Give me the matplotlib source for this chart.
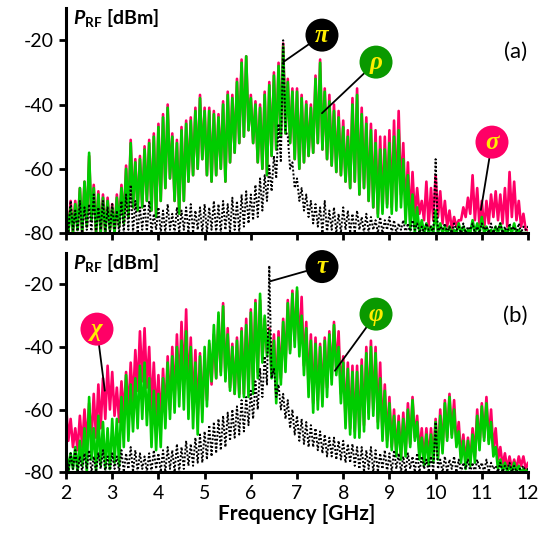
import numpy as np
import matplotlib
matplotlib.use("Agg")
import matplotlib.pyplot as plt

# Frequency grid [GHz]; each series is given as local maxima (hi) at FREQ
# and local minima (lo) at FREQ + 0.05 GHz, which is how the dense spectra look.
FREQ = [round(2.0 + 0.1 * i, 1) for i in range(101)]
FREQ_LO = [round(f + 0.05, 2) for f in FREQ]

# ---------- panel (a) ----------
A_SIGMA_HI = [-70, -70, -70, -66, -64, -56, -65, -67, -68, -69,
              -71, -68, -65, -59, -51, -57, -56, -53, -51, -49,
              -46, -43, -40, -49, -51, -47, -45, -44, -41, -37,
              -41, -41, -42, -43, -39, -36, -37, -32, -26, -25,
              -37, -39, -40, -36, -33, -30, -27, -21, -32, -35,
              -35, -37, -39, -40, -31, -26, -35, -37, -40, -42,
              -45, -48, -38, -35, -41, -44, -46, -48, -50, -50,
              -48, -45, -42, -52, -58, -61, -66, -70, -64, -66,
              -62, -67, -70, -73, -75, -76, -72, -69, -62, -66,
              -70, -70, -68, -67, -68, -66, -61, -64, -70, -74, -79]
A_SIGMA_LO = [-80, -80, -79, -80, -78, -76, -80, -80, -80, -79,
              -80, -78, -77, -75, -72, -73, -72, -70, -73, -75,
              -70, -66, -63, -70, -74, -70, -64, -62, -60, -57,
              -62, -64, -62, -60, -64, -58, -55, -52, -50, -48,
              -52, -58, -60, -62, -56, -54, -50, -49, -52, -57,
              -60, -58, -56, -55, -52, -54, -57, -59, -61, -62,
              -64, -66, -64, -68, -66, -70, -72, -74, -73, -71,
              -72, -70, -68, -74, -76, -75, -74, -76, -78, -76,
              -75, -77, -78, -79, -78, -76, -75, -74, -76, -78,
              -79, -77, -75, -76, -77, -78, -75, -76, -78, -79, -80]
A_RHO_HI = [-70, -72, -71, -66, -64, -55, -66, -68, -69, -70,
            -72, -69, -66, -60, -52, -58, -57, -54, -52, -50,
            -47, -44, -41, -50, -52, -48, -46, -45, -42, -38,
            -42, -42, -43, -44, -40, -37, -38, -33, -27, -25,
            -38, -40, -41, -37, -34, -31, -28, -22, -33, -36,
            -36, -38, -40, -41, -32, -27, -36, -39, -42, -44,
            -47, -50, -40, -37, -43, -46, -48, -52, -54, -54,
            -52, -50, -48, -57, -62, -68, -72, -76, -77, -78,
            -73, -77, -78, -78, -79, -77, -78, -79, -76, -77,
            -75, -78, -79, -78, -77, -79, -78, -77, -79, -80, -80]
A_RHO_LO = [-80, -80, -79, -80, -78, -76, -80, -80, -80, -79,
            -80, -78, -77, -75, -72, -73, -72, -70, -73, -75,
            -70, -66, -63, -70, -74, -70, -64, -62, -60, -57,
            -62, -64, -62, -60, -64, -58, -55, -52, -50, -48,
            -52, -58, -60, -62, -56, -54, -50, -49, -52, -57,
            -60, -58, -56, -55, -52, -54, -57, -59, -61, -62,
            -64, -66, -64, -68, -66, -70, -72, -75, -74, -72,
            -74, -73, -72, -77, -79, -80, -80, -80, -80, -80,
            -80, -80, -80, -80, -80, -80, -80, -80, -80, -80,
            -80, -80, -80, -80, -80, -80, -80, -80, -80, -80, -80]
A_PI_HI = [-72, -70, -73, -70, -72, -71, -68, -72, -70, -72,
           -71, -73, -70, -68, -65, -70, -72, -71, -70, -74,
           -72, -73, -71, -74, -72, -73, -72, -71, -73, -72,
           -71, -72, -70, -71, -70, -71, -69, -70, -68, -67,
           -68, -65, -63, -62, -59, -56, -46, -20, -50, -58,
           -63, -66, -68, -70, -71, -72, -70, -73, -72, -74,
           -72, -73, -74, -73, -75, -74, -75, -76, -75, -76,
           -75, -76, -77, -76, -77, -76, -77, -78, -77, -78,
           -57, -78, -77, -78, -77, -78, -77, -78, -77, -78,
           -77, -78, -77, -78, -77, -78, -77, -78, -77, -78, -78]
A_PI_LO = [-80, -79, -80, -80, -79, -80, -80, -79, -80, -80,
           -79, -80, -80, -79, -80, -80, -79, -80, -80, -79,
           -80, -80, -79, -80, -80, -79, -80, -80, -79, -80,
           -80, -79, -80, -80, -79, -80, -79, -80, -78, -77,
           -76, -75, -73, -70, -67, -63, -58, -48, -60, -66,
           -70, -73, -75, -77, -78, -80, -80, -79, -80, -80,
           -79, -80, -80, -79, -80, -80, -79, -80, -80, -79,
           -80, -80, -79, -80, -80, -79, -80, -80, -79, -80,
           -80, -79, -80, -80, -79, -80, -80, -79, -80, -80,
           -79, -80, -80, -79, -80, -80, -79, -80, -80, -79, -80]

# ---------- panel (b) ----------
B_CHI_HI = [-58, -63, -66, -62, -60, -58, -55, -52, -50, -46,
            -48, -53, -51, -48, -45, -41, -35, -34, -40, -45,
            -49, -47, -43, -40, -36, -32, -28, -37, -41, -42,
            -43, -39, -36, -30, -26, -34, -39, -37, -34, -31,
            -28, -25, -25, -31, -34, -36, -35, -31, -25, -22,
            -22, -24, -32, -36, -37, -39, -37, -35, -32, -35,
            -43, -45, -46, -46, -44, -40, -38, -40, -45, -52,
            -56, -60, -62, -61, -58, -56, -62, -66, -66, -66,
            -63, -60, -57, -55, -57, -64, -68, -69, -66, -60,
            -58, -56, -60, -66, -72, -74, -75, -76, -75, -75, -77]
B_CHI_LO = [-70, -72, -73, -72, -71, -70, -69, -66, -63, -60,
            -62, -64, -62, -61, -58, -54, -51, -53, -60, -62,
            -64, -62, -60, -57, -54, -52, -55, -60, -62, -60,
            -57, -52, -50, -48, -50, -53, -55, -55, -55, -53,
            -52, -48, -44, -42, -48, -55, -50, -46, -41, -38,
            -40, -46, -53, -58, -57, -56, -53, -50, -47, -55,
            -63, -66, -67, -67, -65, -61, -60, -64, -68, -70,
            -72, -74, -75, -74, -71, -69, -74, -77, -76, -76,
            -75, -73, -69, -68, -71, -75, -77, -77, -75, -72,
            -69, -70, -73, -76, -78, -79, -79, -79, -78, -79, -80]
B_PHI_HI = [-72, -74, -72, -70, -66, -56, -66, -62, -64, -66,
            -63, -63, -56, -49, -52, -50, -46, -45, -50, -54,
            -55, -50, -45, -43, -40, -38, -35, -40, -45, -43,
            -40, -38, -33, -29, -27, -36, -40, -38, -35, -33,
            -29, -26, -23, -30, -35, -38, -37, -32, -26, -23,
            -21, -30, -34, -38, -39, -40, -38, -36, -33, -40,
            -45, -47, -48, -48, -46, -42, -40, -42, -50, -54,
            -58, -62, -64, -63, -60, -57, -64, -69, -68, -68,
            -64, -62, -58, -56, -60, -67, -70, -70, -68, -62,
            -59, -58, -64, -72, -76, -77, -78, -77, -78, -79, -79]
B_PHI_LO = [-80, -79, -80, -78, -80, -76, -80, -78, -79, -79,
            -77, -78, -72, -70, -67, -66, -63, -65, -72, -73,
            -72, -66, -63, -61, -59, -60, -63, -66, -68, -64,
            -59, -51, -50, -49, -51, -54, -55, -56, -56, -56,
            -55, -50, -45, -43, -50, -58, -52, -48, -42, -40,
            -43, -49, -56, -61, -60, -59, -56, -52, -49, -58,
            -66, -68, -69, -69, -67, -63, -62, -66, -70, -72,
            -73, -75, -76, -75, -72, -70, -76, -78, -78, -77,
            -76, -74, -70, -69, -72, -77, -79, -78, -77, -73,
            -70, -71, -75, -79, -80, -80, -80, -80, -80, -80, -80]
B_TAU_HI = [-72, -74, -73, -75, -74, -73, -75, -74, -73, -75,
            -74, -75, -73, -74, -72, -73, -74, -75, -74, -73,
            -74, -73, -72, -73, -71, -72, -70, -71, -69, -68,
            -67, -65, -64, -63, -62, -61, -60, -59, -57, -56,
            -54, -51, -47, -43, -14, -47, -52, -55, -57, -60,
            -62, -63, -64, -65, -66, -67, -68, -69, -69, -70,
            -70, -71, -71, -72, -72, -73, -72, -73, -74, -73,
            -74, -73, -74, -75, -74, -75, -74, -75, -76, -75,
            -64, -76, -75, -76, -75, -76, -77, -76, -77, -76,
            -77, -76, -77, -78, -77, -78, -77, -78, -79, -78, -79]
B_TAU_LO = [-80, -79, -80, -80, -79, -80, -80, -79, -80, -80,
            -79, -80, -80, -79, -80, -80, -79, -80, -80, -79,
            -80, -80, -79, -80, -80, -79, -78, -78, -77, -77,
            -76, -75, -74, -73, -72, -70, -69, -68, -67, -65,
            -63, -60, -56, -52, -50, -56, -60, -63, -66, -68,
            -70, -71, -72, -72, -73, -74, -75, -75, -76, -76,
            -77, -77, -78, -79, -80, -79, -80, -80, -79, -80,
            -80, -79, -80, -80, -79, -80, -80, -79, -80, -80,
            -79, -80, -80, -79, -80, -80, -79, -80, -80, -79,
            -80, -80, -79, -80, -80, -79, -80, -80, -79, -80, -80]

X_TICKS = [2, 3, 4, 5, 6, 7, 8, 9, 10, 11, 12]
Y_TICKS = [-80, -60, -40, -20]

PINK = "#FF0066"
GREEN = "#00CC00"
DKGREEN = "#0A9900"
FONT = "Lato"

plt.rcParams["mathtext.fontset"] = "custom"
plt.rcParams["mathtext.bf"] = "Lato:bold"
plt.rcParams["mathtext.bfit"] = "Lato:bold:italic"


def zigzag(hi, lo):
    x = np.empty(2 * len(FREQ))
    y = np.empty(2 * len(FREQ))
    x[0::2] = FREQ
    x[1::2] = FREQ_LO
    y[0::2] = hi
    y[1::2] = lo
    return x, y


fig = plt.figure(figsize=(5.47, 5.42), dpi=100)
ax_a = fig.add_axes([0.1207, 0.570, 0.8446, 0.415])
ax_b = fig.add_axes([0.1207, 0.129, 0.8446, 0.404])


def style(ax, show_xlabels):
    ax.set_xlim(2, 12)
    ax.set_ylim(-80, -10)
    for s in ("top", "right"):
        ax.spines[s].set_visible(False)
    for s in ("left", "bottom"):
        ax.spines[s].set_linewidth(2.2)
        ax.spines[s].set_zorder(10)
    ax.set_xticks(X_TICKS)
    ax.set_yticks(Y_TICKS)
    ax.set_yticklabels([str(v) for v in Y_TICKS], family=FONT, fontsize=14)
    if show_xlabels:
        ax.set_xticklabels([str(v) for v in X_TICKS], family=FONT, fontsize=14)
    else:
        ax.set_xticklabels([])
    ax.tick_params(direction="out", length=5, width=2, pad=4)
    ax.text(2.15, -13.3, r"$\boldsymbol{P}_{\mathbf{RF}}$ [dBm]", fontsize=14,
            fontweight="bold", family=FONT, va="center", ha="left")


def bubble(ax, letter, xy, xyt, color):
    ax.annotate(letter, xy=xy, xytext=xyt, textcoords="data",
                ha="center", va="center", fontsize=18, color="#FFEE00",
                family="Liberation Serif", fontweight="bold", style="italic",
                bbox=dict(boxstyle="circle,pad=0.2", fc=color, ec="none"),
                arrowprops=dict(arrowstyle="-", color="black", lw=1.3,
                                shrinkA=0, shrinkB=0),
                zorder=20, annotation_clip=False)


# panel (a)
x, y = zigzag(A_SIGMA_HI, A_SIGMA_LO)
ax_a.plot(x, y, color=PINK, lw=1.9, zorder=2)
x, y = zigzag(A_RHO_HI, A_RHO_LO)
ax_a.plot(x, y, color=GREEN, lw=1.9, zorder=3)
x, y = zigzag(A_PI_HI, A_PI_LO)
ax_a.plot(x, y, color="black", lw=1.4, ls=(0, (1, 1)), zorder=4)
style(ax_a, False)
ax_a.text(11.72, -23.7, "(a)", fontsize=16, family=FONT, ha="center", va="center")
bubble(ax_a, "π", (6.70, -26.8), (7.54, -18.4), "black")
bubble(ax_a, "ρ", (7.54, -42.7), (8.71, -26.8), DKGREEN)
bubble(ax_a, "σ", (10.98, -72.8), (11.22, -51.7), PINK)

# panel (b)
x, y = zigzag(B_CHI_HI, B_CHI_LO)
ax_b.plot(x, y, color=PINK, lw=1.9, zorder=2)
x, y = zigzag(B_PHI_HI, B_PHI_LO)
ax_b.plot(x, y, color=GREEN, lw=1.9, zorder=3)
x, y = zigzag(B_TAU_HI, B_TAU_LO)
ax_b.plot(x, y, color="black", lw=1.4, ls=(0, (1, 1)), zorder=4)
style(ax_b, True)
ax_b.text(11.72, -30.2, "(b)", fontsize=16, family=FONT, ha="center", va="center")
ax_b.set_xlabel("Frequency [GHz]", fontsize=15, fontweight="bold", family=FONT, labelpad=2)
bubble(ax_b, "χ", (2.84, -54.0), (2.67, -34.3), PINK)
bubble(ax_b, "τ", (6.42, -19.0), (7.54, -14.3), "black")
bubble(ax_b, "φ", (7.82, -47.6), (8.71, -29.5), DKGREEN)

fig.savefig("out.png", dpi=100)
